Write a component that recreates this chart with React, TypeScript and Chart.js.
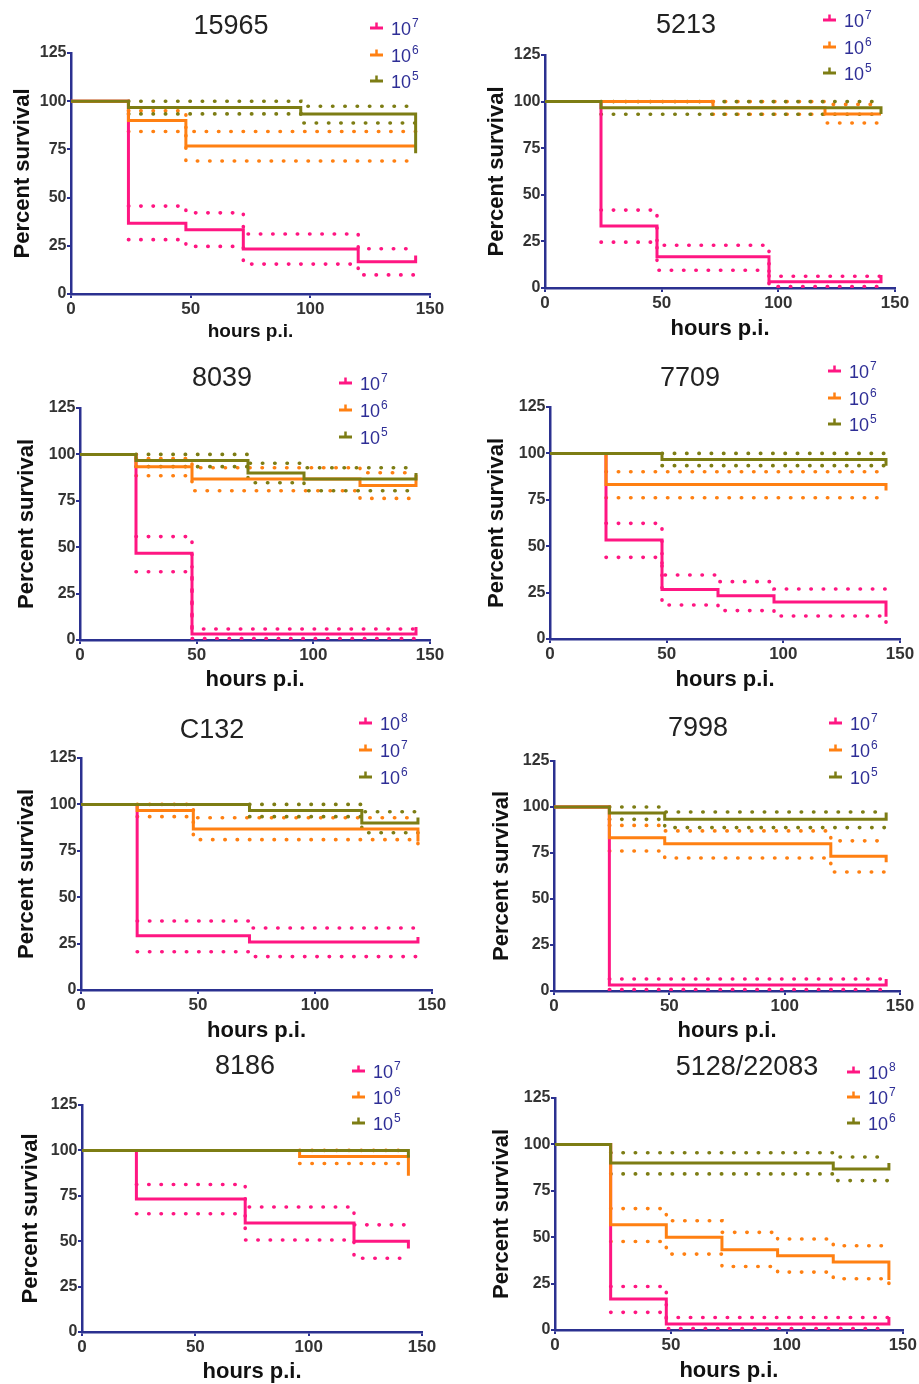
import React, { useEffect, useRef } from "react";
import { Chart, registerables } from "chart.js";
Chart.register(...registerables);

type P = [number, number][];

const PINK = "#FF1682";
const ORANGE = "#FF8012";
const OLIVE = "#7D7D14";
const NAVY = "#2B3190";
const LEG = "#2E2E96";
const FONT = "'Liberation Sans', Arial, Helvetica, sans-serif";

// ---------- tick labels ----------
const X_MIN = 0, X_MAX = 150, X_STEP = 50;
const Y_MIN = 0, Y_MAX = 125, Y_STEP = 25;
const X_LABEL = "hours p.i.";
const Y_LABEL = "Percent survival";

// ---------- titles / legend exponents ----------
const TITLES = ["15965", "5213", "8039", "7709", "C132", "7998", "8186", "5128/22083"];
const EXP_A = ["7", "6", "5"];
const EXP_B = ["8", "7", "6"];

// ---------- 15965 ----------
const p1Pink: P = [[0, 100], [24, 36.7], [48, 33.3], [72, 23.3], [120, 16.7], [144, 16.7], [144, 20]];
const p1PinkUp: P = [[24, 45.6], [48, 42.1], [72, 31.1], [120, 23.5], [144, 23.5]];
const p1PinkLo: P = [[24, 28.2], [48, 24.7], [72, 15.5], [120, 9.9], [144, 9.9]];
const p1Orange: P = [[0, 100], [24, 90], [48, 76.7], [144, 76.7]];
const p1OrangeUp: P = [[24, 95], [48, 84.3], [144, 84.3]];
const p1OrangeLo: P = [[24, 84.3], [48, 69], [144, 69]];
const p1Olive: P = [[0, 100], [24, 96.7], [96, 93.3], [144, 93.3], [144, 73]];
const p1OliveUp: P = [[24, 100], [96, 97.4], [144, 97.4]];
const p1OliveLo: P = [[24, 93.4], [96, 88.7], [144, 88.7]];

// ---------- 5213 ----------
const p2Pink: P = [[0, 100], [24, 33.3], [48, 16.7], [96, 3.3], [144, 3.3], [144, 7]];
const p2PinkUp: P = [[24, 41.8], [48, 22.9], [96, 6.3], [144, 6.3]];
const p2PinkLo: P = [[24, 24.6], [48, 9.5], [96, 0.8], [144, 0.8]];
const p2Orange: P = [[0, 100], [72, 96.7], [120, 93.3], [144, 93.3]];
const p2OrangeUp: P = [[72, 100], [120, 98.5], [144, 98.5]];
const p2OrangeLo: P = [[72, 93.2], [120, 88.5], [144, 88.5]];
const p2Olive: P = [[0, 100], [24, 96.7], [144, 96.7], [144, 93.3]];
const p2OliveUp: P = [[24, 100], [144, 100]];
const p2OliveLo: P = [[24, 93.2], [144, 93.2]];

// ---------- 8039 ----------
const p3Pink: P = [[0, 100], [24, 46.7], [48, 3.3], [144, 3.3], [144, 7]];
const p3PinkUp: P = [[24, 55.7], [48, 5.9], [144, 5.9]];
const p3PinkLo: P = [[24, 36.8], [48, 0.8], [144, 0.8]];
const p3Orange: P = [[0, 100], [24, 93.3], [48, 86.7], [120, 83.3], [144, 83.3], [144, 89]];
const p3OrangeUp: P = [[24, 97.8], [48, 92.8], [120, 90.1], [144, 90.1]];
const p3OrangeLo: P = [[24, 88.5], [48, 80.4], [120, 76.3], [144, 76.3]];
const p3Olive: P = [[0, 100], [24, 96.7], [72, 90], [96, 86.7], [144, 86.7], [144, 90]];
const p3OliveUp: P = [[24, 100], [72, 95.2], [96, 92.8], [144, 92.8]];
const p3OliveLo: P = [[24, 93.4], [72, 84.7], [96, 80.4], [144, 80.4]];

// ---------- 7709 ----------
const p4Pink: P = [[0, 100], [24, 53.3], [48, 26.7], [72, 23.3], [96, 20], [144, 20], [144, 12]];
const p4PinkUp: P = [[24, 62.3], [48, 34.5], [72, 30.9], [96, 26.9], [144, 26.9]];
const p4PinkLo: P = [[24, 44], [48, 18.3], [72, 15.3], [96, 12.4], [144, 12.4], [144, 7.9]];
const p4Orange: P = [[0, 100], [24, 83.3], [144, 83.3], [144, 80]];
const p4OrangeUp: P = [[24, 90.1], [144, 90.1]];
const p4OrangeLo: P = [[24, 76.1], [144, 76.1]];
const p4Olive: P = [[0, 100], [48, 96.7], [144, 96.7], [144, 93.3]];
const p4OliveUp: P = [[48, 100], [144, 100]];
const p4OliveLo: P = [[48, 93.4], [144, 93.4]];

// ---------- C132 ----------
const p5Pink: P = [[0, 100], [24, 29.2], [72, 25.8], [144, 25.8], [144, 28.5]];
const p5PinkUp: P = [[24, 37.2], [72, 33.4], [144, 33.4]];
const p5PinkLo: P = [[24, 20.6], [72, 18], [144, 18]];
const p5Orange: P = [[0, 100], [24, 96.7], [48, 86.7], [144, 86.7], [144, 80]];
const p5OrangeUp: P = [[24, 100], [48, 92.8], [144, 92.8]];
const p5OrangeLo: P = [[24, 93.4], [48, 81], [144, 81], [144, 73.6]];
const p5Olive: P = [[0, 100], [72, 96.7], [120, 90], [144, 90], [144, 93]];
const p5OliveUp: P = [[72, 100], [120, 96], [144, 96]];
const p5OliveLo: P = [[72, 93.4], [120, 84.7], [144, 84.7]];

// ---------- 7998 ----------
const p6Pink: P = [[0, 100], [24, 3.3], [144, 3.3], [144, 6.5]];
const p6PinkUp: P = [[24, 6.5], [144, 6.5]];
const p6PinkLo: P = [[24, 0.8], [144, 0.8]];
const p6Orange: P = [[0, 100], [24, 83.3], [48, 80], [120, 73.3], [144, 73.3], [144, 70]];
const p6OrangeUp: P = [[24, 90], [48, 87], [120, 81.6], [144, 81.6]];
const p6OrangeLo: P = [[24, 76.1], [48, 72.3], [120, 64.7], [144, 64.7]];
const p6Olive: P = [[0, 100], [24, 96.7], [48, 93.3], [144, 93.3], [144, 97]];
const p6OliveUp: P = [[24, 100], [48, 97.3], [144, 97.3]];
const p6OliveLo: P = [[24, 93.3], [48, 88.8], [144, 88.8]];

// ---------- 8186 ----------
const p7Pink: P = [[0, 100], [24, 73.3], [72, 60], [120, 50], [144, 50], [144, 46]];
const p7PinkUp: P = [[24, 81.2], [72, 68.8], [120, 59], [144, 59]];
const p7PinkLo: P = [[24, 65.1], [72, 50.7], [120, 40.6], [144, 40.6]];
const p7Orange: P = [[0, 100], [96, 96.7], [144, 96.7], [144, 86]];
const p7OrangeUp: P = [[96, 100], [144, 100]];
const p7OrangeLo: P = [[96, 92.8], [144, 92.8]];
const p7Olive: P = [[0, 100], [144, 100], [144, 96]];
const p7OliveUp: P = [];
const p7OliveLo: P = [];

// ---------- 5128/22083 ----------
const p8Pink: P = [[0, 100], [24, 16.7], [48, 3.3], [144, 3.3], [144, 7]];
const p8PinkUp: P = [[24, 23.4], [48, 6.7], [144, 6.7]];
const p8PinkLo: P = [[24, 9.5], [48, 0.8], [144, 0.8]];
const p8Orange: P = [[0, 100], [24, 56.7], [48, 50], [72, 43.3], [96, 40], [120, 36.7], [144, 36.7], [144, 27]];
const p8OrangeUp: P = [[24, 65.4], [48, 58.9], [72, 52.6], [96, 49], [120, 45.4], [144, 45.4]];
const p8OrangeLo: P = [[24, 47.7], [48, 40.9], [72, 34.2], [96, 31.2], [120, 27.6], [144, 27.6], [144, 21.3]];
const p8Olive: P = [[0, 100], [24, 90], [120, 86.7], [144, 86.7], [144, 90]];
const p8OliveUp: P = [[24, 95.5], [120, 93.2], [144, 93.2]];
const p8OliveLo: P = [[24, 84.1], [120, 80.5], [144, 80.5]];

type Curves = { main: P; up: P; lo: P };
type PanelData = { title: string; exps: string[]; pink: Curves; orange: Curves; olive: Curves };

const PANELS: PanelData[] = [
  { title: TITLES[0], exps: EXP_A, pink: { main: p1Pink, up: p1PinkUp, lo: p1PinkLo }, orange: { main: p1Orange, up: p1OrangeUp, lo: p1OrangeLo }, olive: { main: p1Olive, up: p1OliveUp, lo: p1OliveLo } },
  { title: TITLES[1], exps: EXP_A, pink: { main: p2Pink, up: p2PinkUp, lo: p2PinkLo }, orange: { main: p2Orange, up: p2OrangeUp, lo: p2OrangeLo }, olive: { main: p2Olive, up: p2OliveUp, lo: p2OliveLo } },
  { title: TITLES[2], exps: EXP_A, pink: { main: p3Pink, up: p3PinkUp, lo: p3PinkLo }, orange: { main: p3Orange, up: p3OrangeUp, lo: p3OrangeLo }, olive: { main: p3Olive, up: p3OliveUp, lo: p3OliveLo } },
  { title: TITLES[3], exps: EXP_A, pink: { main: p4Pink, up: p4PinkUp, lo: p4PinkLo }, orange: { main: p4Orange, up: p4OrangeUp, lo: p4OrangeLo }, olive: { main: p4Olive, up: p4OliveUp, lo: p4OliveLo } },
  { title: TITLES[4], exps: EXP_B, pink: { main: p5Pink, up: p5PinkUp, lo: p5PinkLo }, orange: { main: p5Orange, up: p5OrangeUp, lo: p5OrangeLo }, olive: { main: p5Olive, up: p5OliveUp, lo: p5OliveLo } },
  { title: TITLES[5], exps: EXP_A, pink: { main: p6Pink, up: p6PinkUp, lo: p6PinkLo }, orange: { main: p6Orange, up: p6OrangeUp, lo: p6OrangeLo }, olive: { main: p6Olive, up: p6OliveUp, lo: p6OliveLo } },
  { title: TITLES[6], exps: EXP_A, pink: { main: p7Pink, up: p7PinkUp, lo: p7PinkLo }, orange: { main: p7Orange, up: p7OrangeUp, lo: p7OrangeLo }, olive: { main: p7Olive, up: p7OliveUp, lo: p7OliveLo } },
  { title: TITLES[7], exps: EXP_B, pink: { main: p8Pink, up: p8PinkUp, lo: p8PinkLo }, orange: { main: p8Orange, up: p8OrangeUp, lo: p8OrangeLo }, olive: { main: p8Olive, up: p8OliveUp, lo: p8OliveLo } },
];

// ---------- layout (page pixels) ----------
type Lay = {
  left: number; top: number; axisX: number; right: number; plotTop: number; plotBottom: number;
  yTitleX: number; xTitleY: number; xTitleSize: number; titleX: number; titleY: number;
  legX: number; legY: number[];
};
const LAYOUT: Lay[] = [
  { left: 0, top: 0, axisX: 71, right: 430, plotTop: 53, plotBottom: 294, yTitleX: 22.5, xTitleY: 332, xTitleSize: 19, titleX: 231, titleY: 25, legX: 370, legY: [28, 54.5, 81] },
  { left: 460, top: 0, axisX: 545, right: 895, plotTop: 55, plotBottom: 288, yTitleX: 497, xTitleY: 329, xTitleSize: 22, titleX: 686, titleY: 24, legX: 823, legY: [20, 47, 73] },
  { left: 0, top: 345, axisX: 80, right: 430, plotTop: 408, plotBottom: 640, yTitleX: 26.5, xTitleY: 680, xTitleSize: 22, titleX: 222, titleY: 377, legX: 339, legY: [383, 410, 437] },
  { left: 460, top: 345, axisX: 550, right: 900, plotTop: 407, plotBottom: 639, yTitleX: 497, xTitleY: 680, xTitleSize: 22, titleX: 690, titleY: 377, legX: 828, legY: [371, 398, 424] },
  { left: 0, top: 690, axisX: 81, right: 432, plotTop: 758, plotBottom: 990, yTitleX: 26.5, xTitleY: 1031, xTitleSize: 22, titleX: 212, titleY: 729, legX: 359, legY: [723, 750, 777] },
  { left: 460, top: 690, axisX: 554, right: 900, plotTop: 761, plotBottom: 991, yTitleX: 501.5, xTitleY: 1031, xTitleSize: 22, titleX: 698, titleY: 727, legX: 829, legY: [723, 750, 777] },
  { left: 0, top: 1040, axisX: 82, right: 422, plotTop: 1105, plotBottom: 1332, yTitleX: 31, xTitleY: 1372, xTitleSize: 22, titleX: 245, titleY: 1065, legX: 352, legY: [1071, 1097, 1123] },
  { left: 460, top: 1040, axisX: 555, right: 903, plotTop: 1098, plotBottom: 1330, yTitleX: 502, xTitleY: 1371, xTitleSize: 22, titleX: 747, titleY: 1066, legX: 847, legY: [1072, 1097, 1123] },
];

const Y_TITLE_SIZE = 22;

const toXY = (a: P) => a.map(([x, y]) => ({ x, y }));

function Panel({ data, lay }: { data: PanelData; lay: Lay }) {
  const ref = useRef<HTMLCanvasElement>(null);
  const padR = Math.min(18, 918 - lay.right);
  const W = lay.right + padR - lay.left;
  const xlh = lay.xTitleSize * 1.2;
  const H = Math.ceil(lay.xTitleY - lay.top + xlh / 2 + 3);
  const xTitlePadBottom = H - (lay.xTitleY - lay.top) - xlh / 2;

  useEffect(() => {
    const canvas = ref.current!;
    const series = [
      { c: data.olive, color: OLIVE, o: 0 },
      { c: data.orange, color: ORANGE, o: 1 },
      { c: data.pink, color: PINK, o: 2 },
    ];
    const datasets: any[] = [];
    series.forEach((s) => {
      datasets.push({
        data: toXY(s.c.main), borderColor: s.color, borderWidth: 3, pointRadius: 0,
        stepped: true, fill: false, order: s.o, borderCapStyle: "butt", borderJoinStyle: "miter",
      });
      [s.c.up, s.c.lo].forEach((ci) => {
        if (!ci.length) return;
        datasets.push({
          data: toXY(ci), borderColor: s.color, borderWidth: 3.6, pointRadius: 0,
          stepped: true, fill: false, order: 3 + s.o, borderDash: [0.4, 11.9], borderCapStyle: "round",
        });
      });
    });
    const yTitlePadTop = lay.yTitleX - lay.left - (Y_TITLE_SIZE * 1.2) / 2;
    const chart = new Chart(canvas, {
      type: "line",
      data: { datasets },
      options: {
        responsive: false,
        animation: false,
        events: [],
        layout: { padding: { left: 0, top: lay.plotTop - lay.top, right: padR, bottom: 0 } },
        plugins: { legend: { display: false }, tooltip: { enabled: false }, title: { display: false } },
        scales: {
          x: {
            type: "linear", min: X_MIN, max: X_MAX,
            ticks: { stepSize: X_STEP, font: { family: FONT, size: 17, weight: "bold" }, color: "#333", padding: 1, maxRotation: 0 },
            grid: { drawOnChartArea: false, drawTicks: true, tickLength: 4, color: NAVY, lineWidth: 2 },
            border: { color: NAVY, width: 2.5 },
            title: { display: true, text: X_LABEL, font: { family: FONT, size: lay.xTitleSize, weight: "bold" }, color: "#111", padding: { top: 0, bottom: xTitlePadBottom } },
            afterFit: (s: any) => { s.height = H - (lay.plotBottom - lay.top); },
          },
          y: {
            type: "linear", min: Y_MIN, max: Y_MAX,
            ticks: { stepSize: Y_STEP, font: { family: FONT, size: 16, weight: "bold" }, color: "#333", padding: 0.5 },
            grid: { drawOnChartArea: false, drawTicks: true, tickLength: 4, color: NAVY, lineWidth: 2 },
            border: { color: NAVY, width: 2.5 },
            title: { display: true, text: Y_LABEL, font: { family: FONT, size: Y_TITLE_SIZE, weight: "bold" }, color: "#111", padding: { top: yTitlePadTop, bottom: 0 } },
            afterFit: (s: any) => { s.width = lay.axisX - lay.left; },
          },
        },
      } as any,
    });
    return () => chart.destroy();
  }, []);

  const colors = [PINK, ORANGE, OLIVE];
  return (
    <>
      <canvas
        ref={ref}
        width={W}
        height={H}
        style={{ position: "absolute", left: lay.left, top: lay.top, width: W, height: H }}
      />
      <div
        style={{
          position: "absolute", left: lay.titleX, top: lay.titleY, transform: "translate(-50%, -50%)",
          fontSize: 27, lineHeight: "27px", color: "#222", whiteSpace: "nowrap",
        }}
      >
        {data.title}
      </div>
      {data.exps.map((e, i) => (
        <div
          key={i}
          style={{
            position: "absolute", left: lay.legX, top: lay.legY[i] - 12, height: 24,
            display: "flex", alignItems: "center", whiteSpace: "nowrap",
          }}
        >
          <svg width={13} height={12} style={{ display: "block" }}>
            <line x1={0} y1={6} x2={13} y2={6} stroke={colors[i]} strokeWidth={3} />
            <line x1={6.5} y1={0.5} x2={6.5} y2={6} stroke={colors[i]} strokeWidth={2.5} />
          </svg>
          <span style={{ marginLeft: 8, fontSize: 18, lineHeight: "24px", color: LEG, position: "relative", top: 2 }}>
            10
            <sup style={{ fontSize: 12, verticalAlign: "baseline", position: "relative", top: -8, marginLeft: 1 }}>{e}</sup>
          </span>
        </div>
      ))}
    </>
  );
}

export default function App() {
  return (
    <div
      style={{
        position: "absolute", left: 0, top: 0, width: 919, height: 1384, overflow: "hidden",
        background: "#fff", fontFamily: FONT,
      }}
    >
      {PANELS.map((p, i) => (
        <Panel key={i} data={p} lay={LAYOUT[i]} />
      ))}
    </div>
  );
}
